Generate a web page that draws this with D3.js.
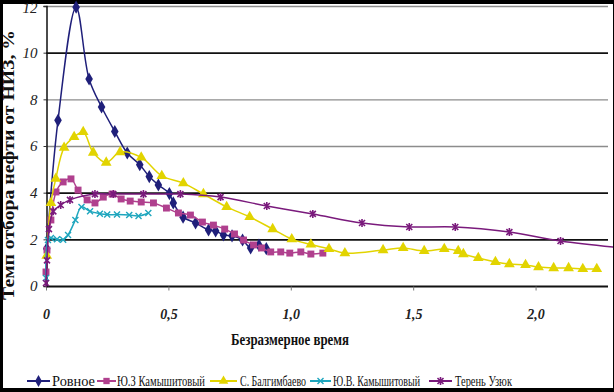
<!DOCTYPE html>
<html>
<head>
<meta charset="utf-8">
<script src="https://cdn.jsdelivr.net/npm/d3@7"></script>
<style>
  body { margin: 0; background: #000; }
  svg { display: block; }
</style>
</head>
<body>
<svg width="614" height="392"></svg>
<script>
var SERIF = "'Liberation Serif', 'Times New Roman', serif";

// axis ticks
var xTicks = [0, 0.5, 1.0, 1.5, 2.0];
var xTickLabels = ["0", "0,5", "1,0", "1,5", "2,0"];
var yTicks = [0, 2, 4, 6, 8, 10, 12];

var seriesNames = ["Ровное", "Ю.З Камышитовый", "С. Балгимбаево", "Ю.В. Камышитовый", "Терень Узюк"];

// [безразмерное время, темп отбора %]
var rovnoe = [[0.003, 1.6], [0.049, 7.1], [0.123, 11.95], [0.176, 8.87], [0.227, 7.67], [0.281, 6.62],
  [0.332, 5.7], [0.383, 5.2], [0.422, 4.69], [0.459, 4.33], [0.504, 3.96], [0.52, 3.56], [0.56, 2.95],
  [0.611, 2.7], [0.664, 2.4], [0.693, 2.36], [0.725, 2.19], [0.76, 2.15], [0.803, 1.97], [0.836, 1.63],
  [0.87, 1.75], [0.9, 1.6]];

var yuzKamysh = [[0.0, 0.6], [0.004, 1.54], [0.02, 2.83], [0.041, 4.03], [0.07, 4.46], [0.102, 4.59],
  [0.131, 4.11], [0.168, 3.69], [0.2, 3.56], [0.234, 3.81], [0.27, 3.94], [0.307, 3.73], [0.344, 3.64],
  [0.389, 3.6], [0.439, 3.56], [0.492, 3.34], [0.541, 3.13], [0.59, 3.04], [0.639, 2.74], [0.684, 2.61],
  [0.73, 2.44], [0.77, 2.23], [0.807, 1.97], [0.848, 1.76], [0.881, 1.63], [0.918, 1.46], [0.959, 1.46],
  [0.996, 1.41], [1.041, 1.46], [1.082, 1.37], [1.131, 1.41]];

var balgimbaevo = [[0.003, 1.3], [0.02, 3.56], [0.04, 4.6], [0.074, 5.93], [0.115, 6.39], [0.152, 6.6],
  [0.193, 5.72], [0.246, 5.29], [0.303, 5.74], [0.389, 5.51], [0.473, 4.72], [0.561, 4.41], [0.643, 3.94],
  [0.738, 3.39], [0.832, 2.96], [0.926, 2.44], [1.004, 2.01], [1.082, 1.78], [1.156, 1.59], [1.221, 1.41],
  [1.377, 1.54], [1.459, 1.63], [1.545, 1.5], [1.627, 1.59], [1.684, 1.5], [1.705, 1.37], [1.766, 1.2],
  [1.836, 1.03], [1.893, 0.94], [1.959, 0.9], [2.012, 0.81], [2.074, 0.77], [2.135, 0.77], [2.193, 0.73],
  [2.25, 0.73]];

var yuvKamysh = [[0.0, 0.34], [0.008, 1.97], [0.02, 2.06], [0.045, 2.0], [0.07, 1.98], [0.09, 2.19],
  [0.12, 2.83], [0.145, 3.39], [0.18, 3.2], [0.22, 3.1], [0.25, 3.06], [0.29, 3.06], [0.34, 3.04],
  [0.378, 3.0], [0.418, 3.13]];

var terenUzyuk = [[0.0, 0.13], [0.004, 1.1], [0.012, 2.44], [0.03, 3.2], [0.06, 3.47], [0.098, 3.69],
  [0.2, 3.94], [0.275, 3.94], [0.398, 3.94], [0.549, 3.94], [0.713, 3.81], [0.902, 3.43], [1.09, 3.09],
  [1.291, 2.7], [1.484, 2.53], [1.672, 2.53], [1.893, 2.31], [2.102, 1.93], [2.4, 1.58]];

var allSeries = [rovnoe, yuzKamysh, balgimbaevo, yuvKamysh, terenUzyuk];
var colors = ["#1f1f7a", "#b0408e", "#e2d400", "#1ea6be", "#7a1a7c"];
var symbols = [d3.symbolDiamond, d3.symbolSquare, d3.symbolTriangle, "x", "star"];

var svg = d3.select("svg");

// black frame, white sheet
svg.append("rect").attr("width", 614).attr("height", 392).attr("fill", "#000");
svg.append("rect").attr("x", 3).attr("y", 4).attr("width", 610).attr("height", 384).attr("fill", "#fff");

var x = d3.scaleLinear().domain([0, 2.3]).range([46, 609]);
var y = d3.scaleLinear().domain([0, 12]).range([286, 6]);

// grid
svg.append("g").selectAll("line").data(yTicks.slice(1)).enter().append("line")
  .attr("x1", x(0)).attr("x2", 608)
  .attr("y1", function(d) { return y(d) + 0.5; })
  .attr("y2", function(d) { return y(d) + 0.5; })
  .attr("stroke", function(d) { return (d == 10 || d == 4 || d == 2) ? "#111" : "#8c8c8c"; })
  .attr("stroke-width", function(d) { return (d == 10 || d == 4 || d == 2) ? 1.6 : 1.3; });

// axes
var xAxis = svg.append("g").attr("transform", "translate(0," + (y(0) + 0.5) + ")")
  .call(d3.axisBottom(x).tickValues(xTicks).tickSize(4).tickPadding(19)
    .tickFormat(function(d, i) { return xTickLabels[i]; }));
xAxis.attr("font-family", SERIF);
xAxis.select(".domain").attr("d", "M" + x(0) + ",0H608").attr("stroke", "#111").attr("stroke-width", 2);
xAxis.selectAll(".tick line").attr("stroke", "#777");
xAxis.selectAll("text").attr("font-size", 14).attr("font-style", "italic").attr("font-weight", "bold")
  .attr("fill", "#222");

var yAxis = svg.append("g").attr("transform", "translate(" + (x(0) + 0.5) + ",0)")
  .call(d3.axisLeft(y).tickValues(yTicks).tickSize(3).tickPadding(6));
yAxis.attr("font-family", SERIF);
yAxis.select(".domain").attr("stroke", "#111").attr("stroke-width", 1.5);
yAxis.selectAll(".tick line").attr("stroke", "#333");
yAxis.selectAll("text").attr("font-size", 15).attr("font-style", "italic").attr("fill", "#222");
// top label sits under the frame, as in the source
yAxis.selectAll(".tick").filter(function(d) { return d == 12; }).select("text").attr("dy", "0.42em");

// titles
svg.append("text").attr("x", 290).attr("y", 345).attr("text-anchor", "middle").attr("font-family", SERIF)
  .attr("font-size", 16).attr("font-weight", "bold").attr("fill", "#111")
  .attr("textLength", 118).attr("lengthAdjust", "spacingAndGlyphs").text("Безразмерное время");
svg.append("text").attr("transform", "translate(14,165) rotate(-90)").attr("text-anchor", "middle")
  .attr("font-family", SERIF)
  .attr("font-size", 16).attr("font-weight", "bold").attr("fill", "#111")
  .attr("textLength", 270).attr("lengthAdjust", "spacingAndGlyphs").text("Темп отбора нефти от НИЗ, %");

function marker(sel, k, size) {
  var s = symbols[k];
  if (s == "x") {
    sel.append("path").attr("d", "M-3,-3L3,3M-3,3L3,-3").attr("stroke", colors[k]).attr("stroke-width", 1.4).attr("fill", "none");
  } else if (s == "star") {
    sel.append("path").attr("d", "M-3,-3L3,3M-3,3L3,-3M0,-4L0,4").attr("stroke", colors[k]).attr("stroke-width", 1.6).attr("fill", "none");
  } else {
    sel.append("path").attr("d", d3.symbol().type(s).size(size)).attr("fill", colors[k]);
  }
}
var sizes = [50, 48, 50, 0, 0];

svg.append("clipPath").attr("id", "plot").append("rect").attr("x", 40).attr("y", 0).attr("width", 573).attr("height", 292);

var line = d3.line().x(function(d) { return x(d[0]); }).y(function(d) { return y(d[1]); })
  .curve(d3.curveCatmullRom.alpha(0.5));

var plot = svg.append("g").attr("clip-path", "url(#plot)");
allSeries.forEach(function(data, k) {
  var g = plot.append("g");
  g.append("path").datum(data).attr("d", line).attr("fill", "none")
    .attr("stroke", colors[k]).attr("stroke-width", 1.5);
  g.selectAll(".pt").data(data).enter().append("g").attr("class", "pt")
    .attr("transform", function(d) { return "translate(" + x(d[0]) + "," + y(d[1]) + ")"; })
    .each(function() { marker(d3.select(this), k, sizes[k]); });
});

// legend: line start, line end, text start, text width
var legendLayout = [[27, 50, 52, 43], [97, 116, 117, 88], [210, 237, 240, 66], [310, 331, 333, 87], [429, 452, 455, 57]];
var leg = svg.append("g").attr("transform", "translate(0,381)");
seriesNames.forEach(function(name, k) {
  var p = legendLayout[k];
  leg.append("line").attr("x1", p[0]).attr("x2", p[1]).attr("stroke", colors[k]).attr("stroke-width", 2);
  var m = leg.append("g").attr("transform", "translate(" + ((p[0] + p[1]) / 2) + ",0)");
  marker(m, k, 40);
  leg.append("text").attr("x", p[2]).attr("y", 5).attr("font-family", SERIF)
    .attr("font-size", 14).attr("fill", "#111")
    .attr("textLength", p[3]).attr("lengthAdjust", "spacingAndGlyphs").text(name);
});
</script>
</body>
</html>
